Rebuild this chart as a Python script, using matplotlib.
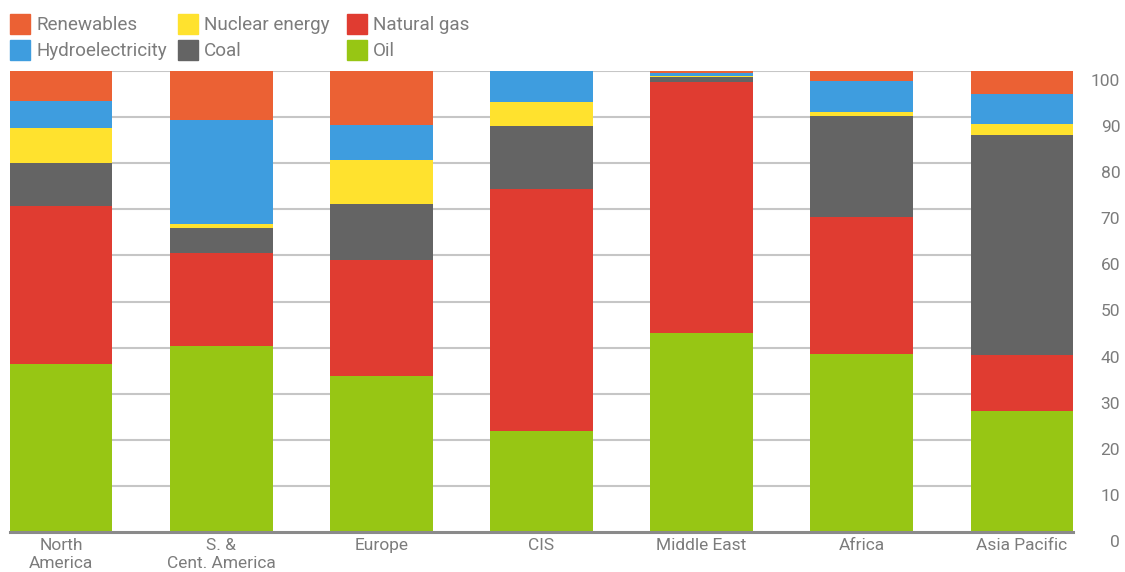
import matplotlib
matplotlib.use("Agg")
import matplotlib.pyplot as plt
from matplotlib.patches import Rectangle
import matplotlib.transforms as mtrans
import numpy as np

plt.rcParams['font.family'] = ['Roboto', 'DejaVu Sans']

regions = ["North\nAmerica", "S. &\nCent. America", "Europe", "CIS",
           "Middle East", "Africa", "Asia Pacific"]

# shares in percent, stacked bottom -> top
oil            = [36.4, 40.4, 33.8, 22.0, 43.1, 38.6, 26.2]
natural_gas    = [34.4, 20.1, 25.2, 52.3, 54.6, 29.7, 12.3]
coal           = [ 9.2,  5.5, 12.1, 13.8,  1.0, 22.0, 47.7]
nuclear        = [ 7.7,  0.9,  9.7,  5.2,  0.3,  0.9,  2.4]
hydro          = [ 5.8, 22.5,  7.5,  6.6,  0.6,  6.7,  6.5]
renewables     = [ 6.5, 10.6, 11.7,  0.1,  0.4,  2.1,  4.9]

series_names = ["Oil", "Natural gas", "Coal", "Nuclear energy",
                "Hydroelectricity", "Renewables"]
series_vals = [oil, natural_gas, coal, nuclear, hydro, renewables]
colors = {"Oil": "#97c614", "Natural gas": "#e03c31", "Coal": "#646464",
          "Nuclear energy": "#ffe22e", "Hydroelectricity": "#3e9ddf",
          "Renewables": "#eb6134"}

yticks = list(range(0, 101, 10))

fig = plt.figure(figsize=(11.25, 5.72), dpi=100)
ax = fig.add_axes([10/1125, 1-532/572, 1063/1125, 461/572])

x = np.arange(len(regions))
bottom = np.zeros(len(regions))
for name, vals in zip(series_names, series_vals):
    vals = np.array(vals)
    ax.bar(x, vals, bottom=bottom, width=0.64, color=colors[name],
           linewidth=0, zorder=2)
    bottom += vals

ax.set_xlim(-0.32, len(regions) - 1 + 0.32)
ax.set_ylim(0, 100)
ax.set_axisbelow(True)
for t in yticks[1:]:
    ax.axhline(t, color="#c6c6c6", lw=1.5, zorder=1)
ax.axhline(0, color="#8a8a8a", lw=2.2, zorder=3, clip_on=False)

for s in ax.spines.values():
    s.set_visible(False)

txtcol = "#7c7c7c"
ax.set_xticks(x)
ax.set_xticklabels(regions, fontsize=12.5, color=txtcol, linespacing=1.3)
ax.tick_params(axis='x', length=0, pad=4)

ax.yaxis.tick_right()
ax.set_yticks(yticks)
ax.set_yticklabels([str(t) for t in yticks], fontsize=12.5, color=txtcol)
ax.tick_params(axis='y', length=0, pad=34)
off = mtrans.ScaledTranslation(0, -9/100, fig.dpi_scale_trans)
for lab in ax.get_yticklabels():
    lab.set_horizontalalignment('right')
    lab.set_transform(lab.get_transform() + off)

# legend (manual grid, 3 columns x 2 rows)
legend_order = ["Renewables", "Nuclear energy", "Natural gas",
                "Hydroelectricity", "Coal", "Oil"]
col_x = [10, 178, 347]
row_y = [14, 40]
for i, name in enumerate(legend_order):
    r, c = divmod(i, 3)
    px, py = col_x[c], row_y[r]
    fig.add_artist(Rectangle((px/1125, 1-(py+20)/572), 20/1125, 20/572,
                             transform=fig.transFigure, color=colors[name]))
    fig.text((px+26)/1125, 1-(py+10.5)/572, name, fontsize=13.6,
             color=txtcol, va='center', ha='left')

fig.savefig("out.png", dpi=100)
